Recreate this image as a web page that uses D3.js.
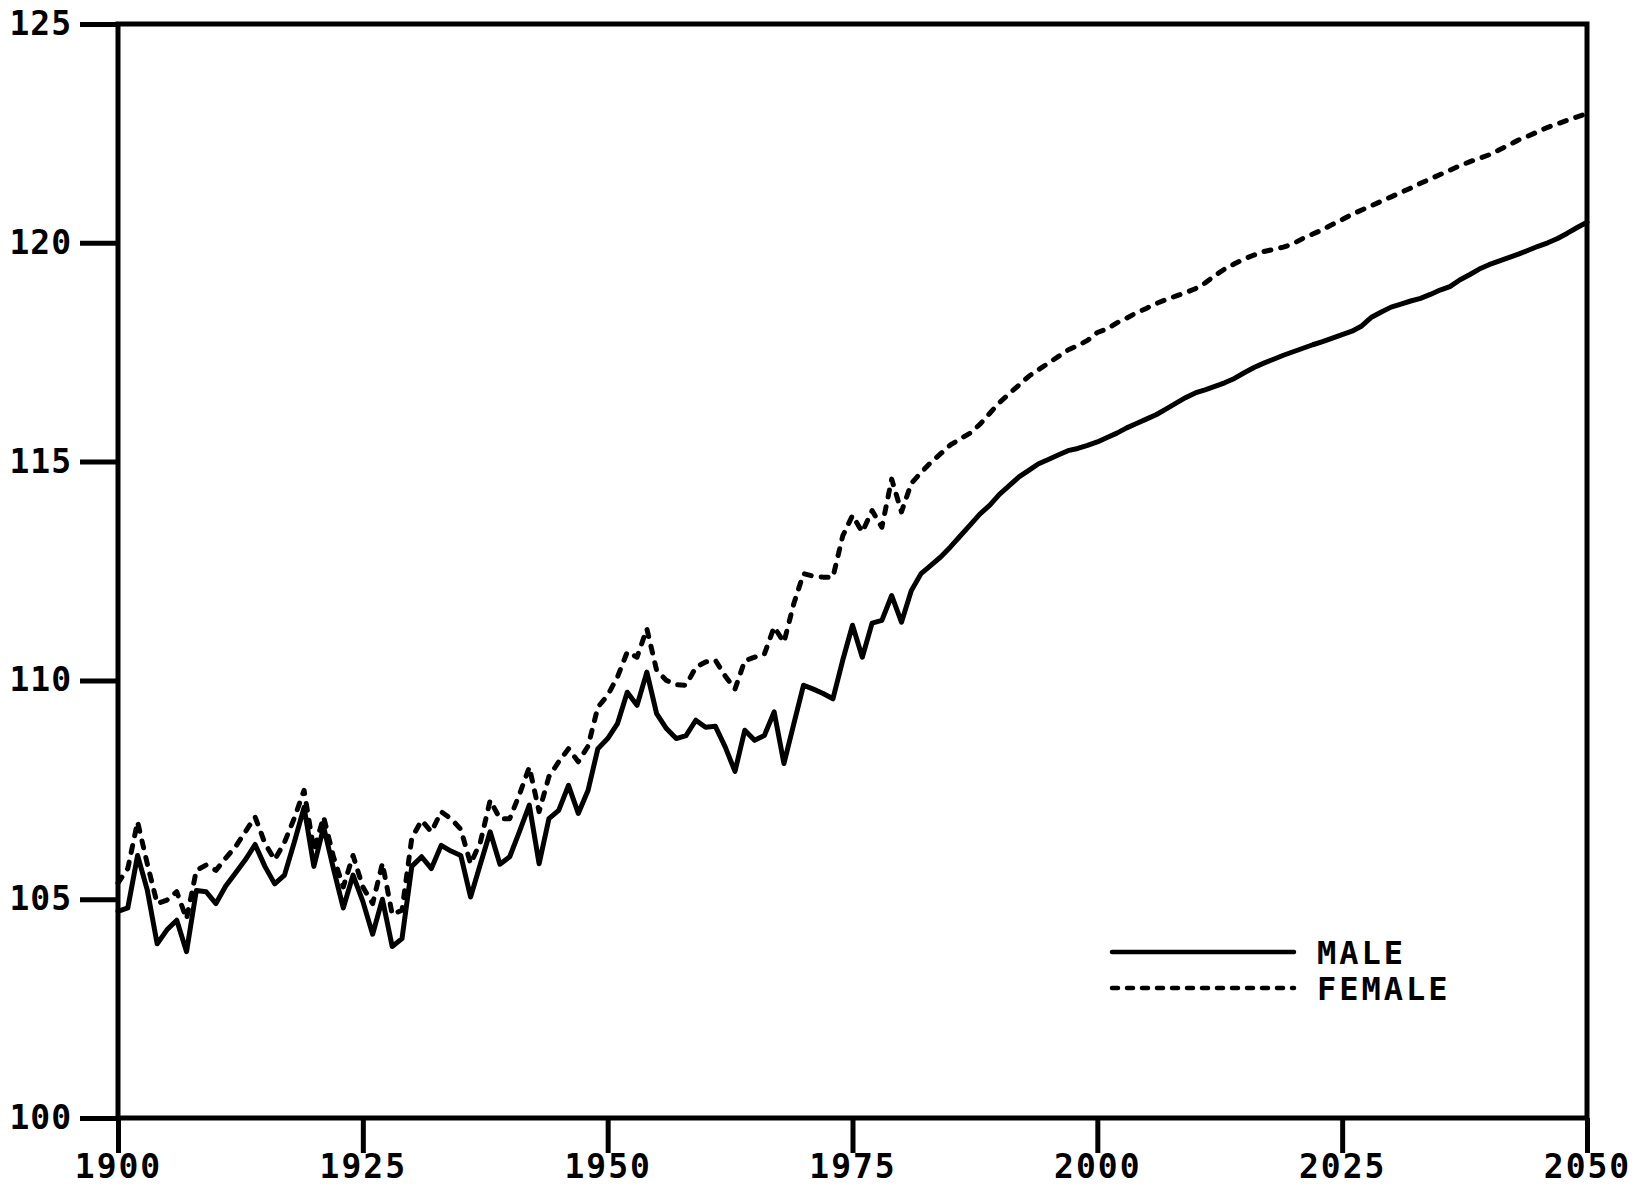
<!DOCTYPE html>
<html>
<head>
<meta charset="utf-8">
<script src="https://cdn.jsdelivr.net/npm/d3@7/dist/d3.min.js"></script>
<style>
  html, body { margin: 0; padding: 0; background: #fff; }
  svg { display: block; }
  text { font-family: "DejaVu Sans Mono", "Liberation Mono", monospace; font-weight: bold; fill: #000; }
</style>
</head>
<body>
<svg id="chart" width="1646" height="1191"></svg>
<script>
// ---- data ----
const years = d3.range(1900, 2051);
const male = [
  104.72, 104.8, 106.0, 105.2, 103.98, 104.3, 104.52, 103.8, 105.2, 105.17,
  104.9, 105.3, 105.6, 105.9, 106.25, 105.75, 105.35, 105.55, 106.3, 107.1,
  105.75, 106.65, 105.7, 104.8, 105.55, 104.95, 104.2, 105.0, 103.92, 104.1,
  105.75, 105.97, 105.7, 106.23, 106.1, 106.0, 105.05, 105.8, 106.54, 105.8,
  105.97, 106.55, 107.15, 105.81, 106.84, 107.03, 107.6, 106.96, 107.49, 108.44,
  108.67, 109.01, 109.73, 109.43, 110.19, 109.24, 108.9, 108.67, 108.74, 109.09,
  108.93, 108.95, 108.48, 107.92, 108.86, 108.63, 108.74, 109.28, 108.1, 109.0,
  109.89, 109.8, 109.7, 109.58, 110.46, 111.26, 110.53, 111.31, 111.37, 111.94,
  111.33, 112.05, 112.44, 112.63, 112.82, 113.05, 113.3, 113.55, 113.8, 114.0,
  114.25, 114.45, 114.65, 114.8, 114.95, 115.05, 115.15, 115.25, 115.3, 115.37,
  115.45, 115.55, 115.65, 115.77, 115.87, 115.97, 116.07, 116.2, 116.33, 116.46,
  116.57, 116.64, 116.72, 116.8, 116.9, 117.03, 117.15, 117.25, 117.34, 117.43,
  117.51, 117.59, 117.67, 117.74, 117.82, 117.9, 117.98, 118.1, 118.3, 118.42,
  118.53, 118.6, 118.67, 118.73, 118.82, 118.92, 119.0, 119.15, 119.27, 119.4,
  119.5, 119.58, 119.66, 119.74, 119.83, 119.92, 120.0, 120.1, 120.22, 120.35,
  120.47
];
const female = [
  105.37, 105.7, 106.77, 105.8, 104.9, 104.98, 105.17, 104.55, 105.66, 105.78,
  105.66, 105.94, 106.2, 106.54, 106.88, 106.28, 105.9, 106.3, 106.85, 107.49,
  106.12, 106.88, 105.97, 105.28, 106.0, 105.28, 104.9, 105.82, 104.65, 104.75,
  106.4, 106.8, 106.54, 107.0, 106.84, 106.6, 105.81, 106.3, 107.26, 106.84,
  106.84, 107.4, 108.02, 107.0, 107.8, 108.14, 108.44, 108.14, 108.5, 109.39,
  109.66, 110.08, 110.65, 110.53, 111.18, 110.23, 110.0, 109.9, 109.89, 110.3,
  110.42, 110.46, 110.1, 109.8, 110.45, 110.53, 110.6, 111.22, 110.87, 111.75,
  112.44, 112.38, 112.36, 112.36, 113.3, 113.77, 113.39, 113.88, 113.5, 114.6,
  113.85, 114.5, 114.75, 114.98, 115.18, 115.38, 115.52, 115.65, 115.85, 116.1,
  116.35, 116.55, 116.75, 116.95, 117.1, 117.25, 117.4, 117.55, 117.65, 117.77,
  117.95, 118.03, 118.17, 118.28, 118.4, 118.5, 118.61, 118.7, 118.78, 118.86,
  118.95, 119.08, 119.25, 119.4, 119.52, 119.63, 119.72, 119.8, 119.85, 119.9,
  119.98, 120.1, 120.2, 120.3, 120.42, 120.53, 120.65, 120.75, 120.85, 120.95,
  121.05, 121.15, 121.25, 121.36, 121.46, 121.56, 121.66, 121.76, 121.85, 121.93,
  122.01, 122.12, 122.23, 122.35, 122.44, 122.54, 122.64, 122.72, 122.8, 122.88,
  122.95
];
const xTicks = [1900, 1925, 1950, 1975, 2000, 2025, 2050];
const yTicks = [100, 105, 110, 115, 120, 125];
const seriesNames = ["MALE", "FEMALE"];

// ---- layout ----
const svg = d3.select("#chart");
const L = 118, R = 1587, T = 24, B = 1118;
const x = d3.scaleLinear().domain([1900, 2050]).range([L, R]);
const y = d3.scaleLinear().domain([100, 125]).range([B, T]);

const AX_W = 5;

// y axis
const gy = svg.append("g").attr("transform", `translate(${L},0)`)
  .call(d3.axisLeft(y).tickValues(yTicks).tickSize(38).tickPadding(8).tickFormat(d3.format("d")));
gy.select(".domain").remove();
gy.selectAll(".tick line").attr("stroke", "#000").attr("stroke-width", AX_W);
gy.selectAll(".tick text").style("font-size", "33px").style("letter-spacing", "1px").attr("fill", "#000").attr("font-family", null);

// x axis
const gx = svg.append("g").attr("transform", `translate(0,${B})`)
  .call(d3.axisBottom(x).tickValues(xTicks).tickSize(35).tickPadding(2).tickFormat(d3.format("d")));
gx.select(".domain").remove();
gx.selectAll(".tick line").attr("stroke", "#000").attr("stroke-width", AX_W);
gx.selectAll(".tick text").style("font-size", "33px").style("letter-spacing", "2px").attr("fill", "#000").attr("font-family", null);

// frame
svg.append("rect")
  .attr("x", L).attr("y", T).attr("width", R - L).attr("height", B - T)
  .attr("fill", "none").attr("stroke", "#000").attr("stroke-width", AX_W);

// lines
const line = d3.line().x((d, i) => x(years[i])).y(d => y(d));
svg.append("path").datum(male).attr("d", line)
  .attr("fill", "none").attr("stroke", "#000").attr("stroke-width", 5)
  .attr("stroke-linejoin", "round").attr("stroke-linecap", "round");
svg.append("path").datum(female).attr("d", line)
  .attr("fill", "none").attr("stroke", "#000").attr("stroke-width", 5)
  .attr("stroke-dasharray", "7,10")
  .attr("stroke-linejoin", "round").attr("stroke-linecap", "round");

// legend
const leg = svg.append("g");
const legY = [952, 988];
seriesNames.forEach((name, i) => {
  leg.append("line")
    .attr("x1", 1112).attr("x2", 1294).attr("y1", legY[i]).attr("y2", legY[i])
    .attr("stroke", "#000").attr("stroke-width", 4.5)
    .attr("stroke-linecap", "round")
    .attr("stroke-dasharray", i === 1 ? "6,9" : null);
  leg.append("text")
    .attr("x", 1317).attr("y", legY[i]).attr("dy", "0.36em")
    .style("font-size", "32px").style("letter-spacing", "3px")
    .text(name);
});
</script>
</body>
</html>
